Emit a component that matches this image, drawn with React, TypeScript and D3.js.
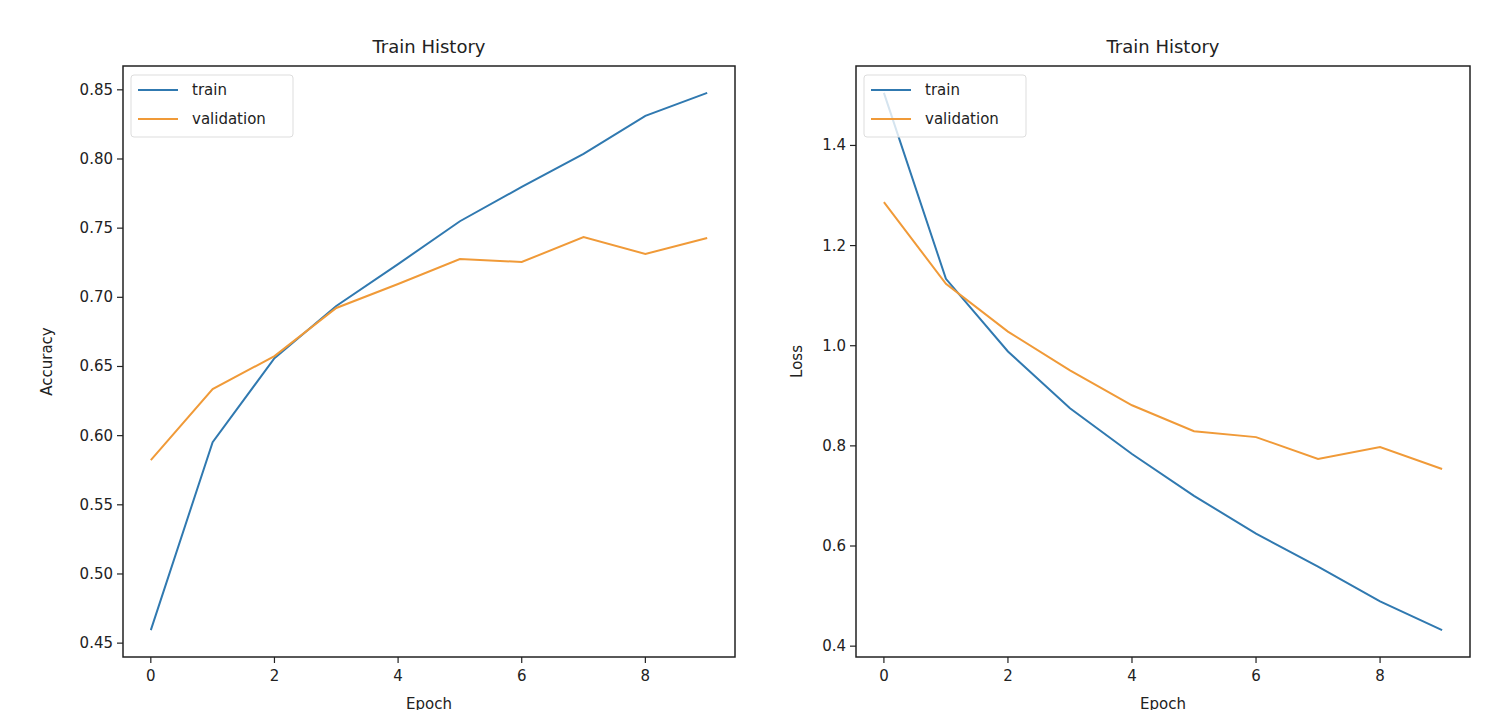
import React from "react";
import * as d3 from "d3";

const epochs = [0, 1, 2, 3, 4, 5, 6, 7, 8, 9];
const accTrain = [0.4594, 0.5953, 0.656, 0.6937, 0.724, 0.755, 0.7798, 0.8037, 0.8312, 0.8478];
const accVal = [0.5823, 0.6336, 0.6575, 0.6923, 0.7096, 0.7277, 0.7255, 0.7436, 0.7313, 0.7429];
const lossTrain = [1.505, 1.1336, 0.9885, 0.875, 0.7837, 0.7002, 0.6247, 0.559, 0.4895, 0.432];
const lossVal = [1.2867, 1.1237, 1.0282, 0.9507, 0.8811, 0.8294, 0.8175, 0.7738, 0.7976, 0.7539];
const xTicks = [0, 2, 4, 6, 8];
const accTicks = [0.45, 0.5, 0.55, 0.6, 0.65, 0.7, 0.75, 0.8, 0.85];
const lossTicks = [0.4, 0.6, 0.8, 1.0, 1.2, 1.4];
const seriesNames = ["train", "validation"];

const W = 1501;
const H = 710;
const TOP = 66;
const BOTTOM = 657;
const BLUE = "#3079b0";
const ORANGE = "#f09a38";
const FONT = "DejaVu Sans, sans-serif";

function Panel({ left, right, train, val, yTicks, yFmt, yLabel, yLabelX }: any) {
  const x = d3.scaleLinear().domain([-0.45, 9.45]).range([left, right]);
  const all = [...train, ...val];
  const mn = d3.min(all) as number;
  const mx = d3.max(all) as number;
  const pad = (mx - mn) * 0.05;
  const y = d3.scaleLinear().domain([mn - pad, mx + pad]).range([BOTTOM, TOP]);
  const line = d3
    .line<number>()
    .x((_, i) => x(epochs[i]))
    .y((d) => y(d));
  const cx = (left + right) / 2;
  const lx = left + 8;
  const ly = TOP + 9;
  return (
    <g fontFamily={FONT} fill="#222">
      <text x={cx} y={53} textAnchor="middle" fontSize={18}>
        Train History
      </text>
      <path d={line(train) || ""} fill="none" stroke={BLUE} strokeWidth={2} />
      <path d={line(val) || ""} fill="none" stroke={ORANGE} strokeWidth={2} />
      <rect x={left} y={TOP} width={right - left} height={BOTTOM - TOP} fill="none" stroke="#222" strokeWidth={1.5} />
      {xTicks.map((t) => (
        <g key={"x" + t}>
          <line x1={x(t)} x2={x(t)} y1={BOTTOM} y2={BOTTOM + 6} stroke="#222" strokeWidth={1.2} />
          <text x={x(t)} y={BOTTOM + 24} textAnchor="middle" fontSize={15}>
            {t}
          </text>
        </g>
      ))}
      {yTicks.map((t: number) => (
        <g key={"y" + t}>
          <line x1={left - 6} x2={left} y1={y(t)} y2={y(t)} stroke="#222" strokeWidth={1.2} />
          <text x={left - 10} y={y(t) + 5} textAnchor="end" fontSize={15}>
            {yFmt(t)}
          </text>
        </g>
      ))}
      <text x={cx} y={709} textAnchor="middle" fontSize={15}>
        Epoch
      </text>
      <text
        transform={`translate(${yLabelX},${(TOP + BOTTOM) / 2}) rotate(-90)`}
        textAnchor="middle"
        fontSize={15}
      >
        {yLabel}
      </text>
      <rect x={lx} y={ly} width={162} height={62} rx={3} fill="#fff" fillOpacity={0.8} stroke="#ddd" strokeWidth={1} />
      {seriesNames.map((n, i) => (
        <g key={n}>
          <line
            x1={lx + 7}
            x2={lx + 47}
            y1={ly + 15 + i * 29}
            y2={ly + 15 + i * 29}
            stroke={i === 0 ? BLUE : ORANGE}
            strokeWidth={2}
          />
          <text x={lx + 61} y={ly + 20 + i * 29} fontSize={15}>
            {n}
          </text>
        </g>
      ))}
    </g>
  );
}

export default function App() {
  return (
    <svg width={W} height={H} style={{ position: "absolute", left: 0, top: 0, background: "#fff" }}>
      <rect x={0} y={0} width={W} height={H} fill="#fff" />
      <Panel
        left={123}
        right={735}
        train={accTrain}
        val={accVal}
        yTicks={accTicks}
        yFmt={d3.format(".2f")}
        yLabel="Accuracy"
        yLabelX={52}
      />
      <Panel
        left={856}
        right={1470}
        train={lossTrain}
        val={lossVal}
        yTicks={lossTicks}
        yFmt={d3.format(".1f")}
        yLabel="Loss"
        yLabelX={802}
      />
    </svg>
  );
}
